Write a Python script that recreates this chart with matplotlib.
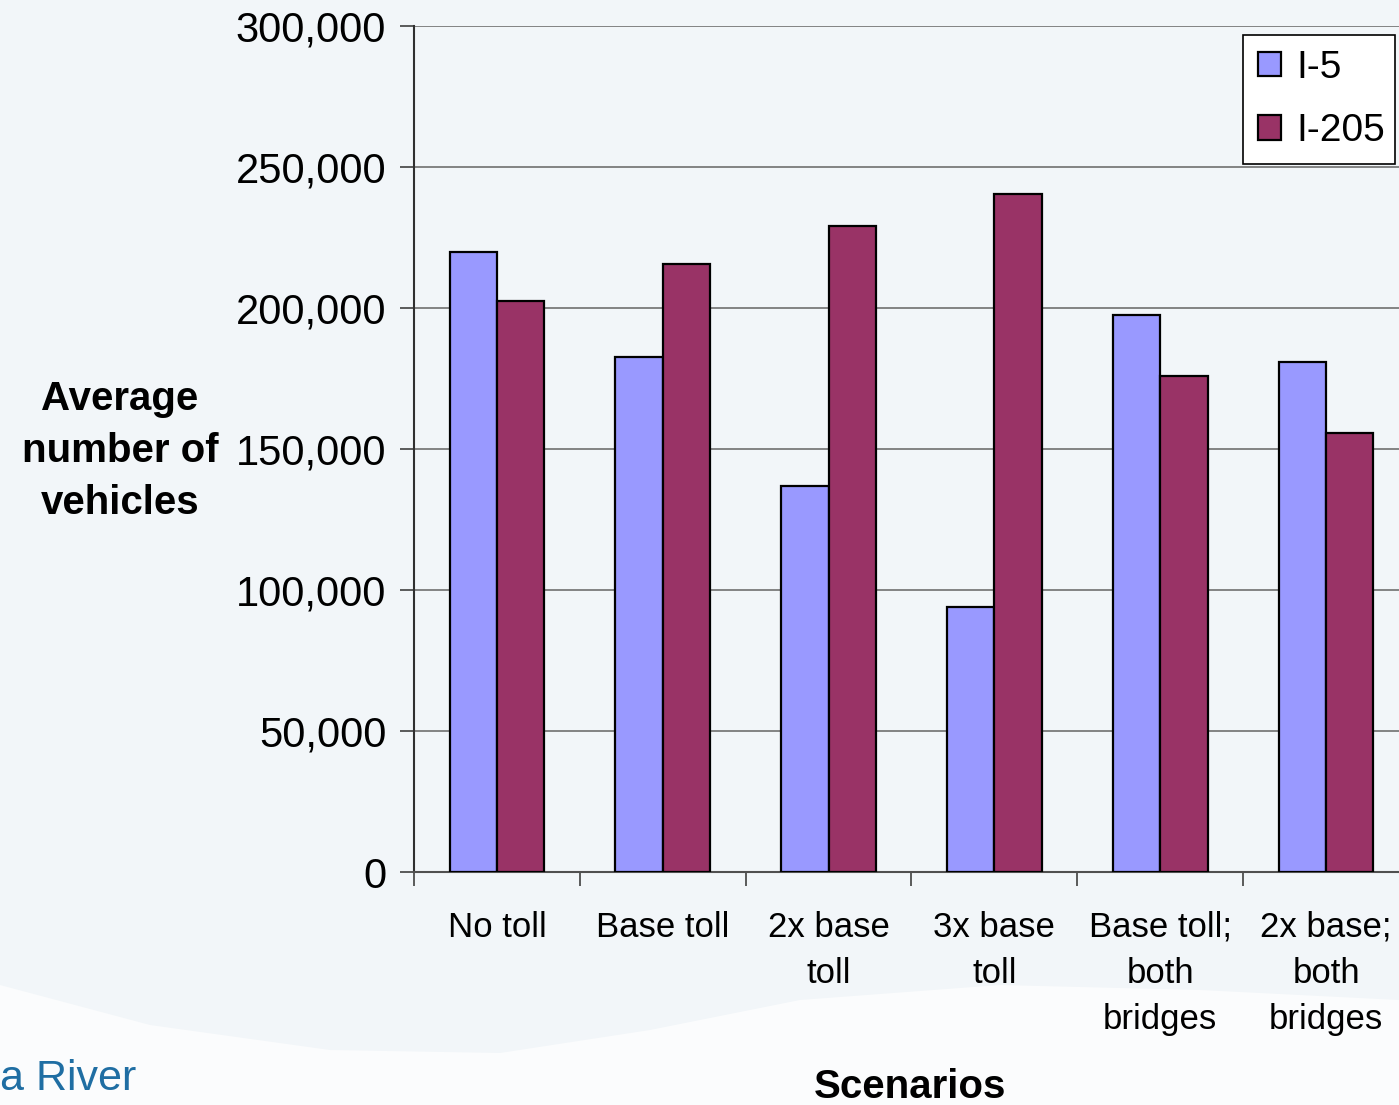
import numpy as np
import matplotlib.pyplot as plt
from matplotlib.patches import Polygon

# Data
scenarios = ["No toll", "Base toll", "2x base\ntoll", "3x base\ntoll",
             "Base toll;\nboth\nbridges", "2x base;\nboth\nbridges"]
i5 = [220000, 182500, 137000, 94000, 197500, 181000]
i205 = [202500, 215500, 229000, 240500, 176000, 155500]
series_names = ["I-5", "I-205"]
y_ticks = [0, 50000, 100000, 150000, 200000, 250000, 300000]

W, H = 1399, 1105
bg = "#f2f6f9"

fig = plt.figure(figsize=(W / 100, H / 100), dpi=100, facecolor=bg)

# faint wave in the slide background
wx = np.array([0, 150, 330, 500, 650, 800, 1000, 1200, 1399, 1399, 0])
wy = np.array([985, 1025, 1050, 1053, 1030, 1000, 985, 990, 1000, 1105, 1105])
fig.patches.append(Polygon(np.c_[wx / W, 1 - wy / H], closed=True,
                           transform=fig.transFigure, facecolor="#fbfcfd",
                           edgecolor="none", zorder=-10))
fig.text(0 / W, 1 - 1090 / H, "a River", color="#1f6ea3", fontsize=31,
         family="Liberation Sans", ha="left", va="baseline")

left, right, top, bottom = 414, 1409, 26, 872
ax = fig.add_axes([left / W, 1 - bottom / H, (right - left) / W, (bottom - top) / H])
ax.set_facecolor("none")

x = np.arange(len(scenarios))
bw = 1 / 3.5
ax.bar(x - bw / 2, i5, bw, color="#9999ff", edgecolor="black", linewidth=1.6,
       label=series_names[0], zorder=3)
ax.bar(x + bw / 2, i205, bw, color="#993366", edgecolor="black", linewidth=1.6,
       label=series_names[1], zorder=3)

ax.set_xlim(-0.5, len(scenarios) - 0.5)
ax.set_ylim(0, 300000)
ax.set_yticks(y_ticks)
ax.set_yticklabels([f"{v:,}" for v in y_ticks], fontsize=30, family="Liberation Sans")
ax.yaxis.grid(True, color="#707070", linewidth=1.2, zorder=0)
ax.set_axisbelow(True)

ax.set_xticks(x)
ax.set_xticklabels(scenarios, fontsize=25, family="Liberation Sans", linespacing=1.5,
                   va="top")
ax.set_xticks(np.arange(len(scenarios) + 1) - 0.5, minor=True)
ax.tick_params(axis="x", which="major", length=0, pad=28)
ax.tick_params(axis="x", which="minor", length=10, width=1.2, color="#404040")
ax.tick_params(axis="y", length=10, width=1.2, color="#404040", pad=10)

for s in ["top", "right"]:
    ax.spines[s].set_visible(False)
ax.spines["left"].set_color("#303030")
ax.spines["left"].set_linewidth(1.5)
ax.spines["bottom"].set_color("#505050")
ax.spines["bottom"].set_linewidth(1.5)

fig.text(120 / W, 1 - 451 / H, "Average\nnumber of\nvehicles", fontsize=29,
         fontweight="bold", family="Liberation Sans", ha="center", va="center",
         linespacing=1.47)
fig.text(910 / W, 1 - 1087 / H, "Scenarios", fontsize=29, fontweight="bold",
         family="Liberation Sans", ha="center", va="center")

# legend box: x 1243..1395, y 35..162 px
leg = fig.legend(loc="upper left", mode="expand",
                 bbox_to_anchor=(1243 / W, 1 - 162 / H, 152 / W, 127 / H),
                 prop={"family": "Liberation Sans", "size": 28}, frameon=True,
                 fancybox=False, edgecolor="black", framealpha=1,
                 handlelength=0.6, handleheight=0.6, handletextpad=0.4,
                 borderpad=0.38, labelspacing=0.7, borderaxespad=0)
leg.get_frame().set_linewidth(1.2)

fig.savefig("out.png", dpi=100, facecolor=bg)
